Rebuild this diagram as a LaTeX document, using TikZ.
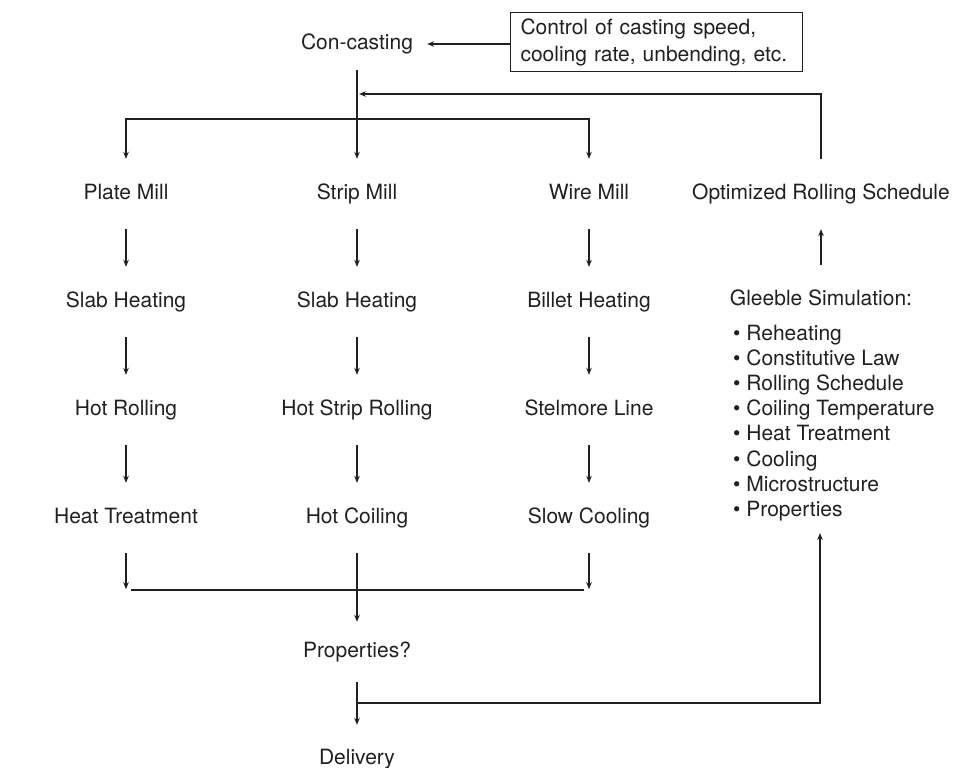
\documentclass[tikz,border=0pt]{standalone}
\usepackage{fontspec}
\setmainfont{TeX Gyre Heros}
\usetikzlibrary{arrows.meta}
\definecolor{ink}{HTML}{231F20}
\tikzset{
  lbl/.style={font=\fontsize{21}{25}\selectfont,text=ink,inner sep=0pt,text height=15pt,text depth=4pt,minimum height=70pt},
  flow/.style={draw=ink,line width=1.1pt,-{Stealth[length=7pt,width=5.5pt]}},
  wire/.style={draw=ink,line width=1.1pt}
}

\begin{document}
\begin{tikzpicture}[x=1pt,y=-1pt]
  \useasboundingbox (0,0) rectangle (969,768);
  % caster and its control box
  \node[lbl,minimum height=52pt,inner xsep=14pt] (cc) at (357,44) {Con-casting};
  \node[draw=ink,line width=1.1pt,anchor=north west,minimum height=59pt,inner xsep=10pt,text width=272pt,align=left,font=\fontsize{21}{27}\selectfont,text=ink] (ctrl) at (510,12) {Control of casting speed,\\cooling rate, unbending, etc.};
  \draw[flow] (ctrl.west |- cc.east) -- (cc.east);
  % the three mill routes
  \foreach \c/\x/\a/\b/\d/\e in {pl/126/Plate Mill/Slab Heating/Hot Rolling/Heat Treatment,
                                 st/357/Strip Mill/Slab Heating/Hot Strip Rolling/Hot Coiling,
                                 wi/589/Wire Mill/Billet Heating/Stelmore Line/Slow Cooling}{
    \node[lbl] (\c1) at (\x,194) {\a};
    \node[lbl] (\c2) at (\x,302) {\b};
    \node[lbl] (\c3) at (\x,410) {\d};
    \node[lbl] (\c4) at (\x,518) {\e};
    \draw[flow] (\c1.south) -- (\c2.north);
    \draw[flow] (\c2.south) -- (\c3.north);
    \draw[flow] (\c3.south) -- (\c4.north);
  }
  \coordinate (split) at (357,119);
  \draw[flow] (cc.south) -- (st1.north);
  \draw[flow] (split) -| (pl1.north);
  \draw[flow] (split) -| (wi1.north);
  % simulation loop
  \node[lbl] (opt) at (821,194) {Optimized Rolling Schedule};
  \node[lbl] (gl) at (821,300) {Gleeble Simulation:};
  \node[anchor=north west,inner sep=0pt,align=left,font=\fontsize{21}{25.1}\selectfont,text=ink] (glist) at (733,325)
    {\textbullet\ Reheating\\\textbullet\ Constitutive Law\\\textbullet\ Rolling Schedule\\\textbullet\ Coiling Temperature\\
     \textbullet\ Heat Treatment\\\textbullet\ Cooling\\\textbullet\ Microstructure\\\textbullet\ Properties};
  \draw[flow] (gl.north) -- (opt.south);
  \coordinate (back) at (359,94);
  \draw[flow] (opt.north) |- (back);
  % merge and delivery
  \draw[flow] (pl4.south) -- ++(0,36);
  \draw[flow] (wi4.south) -- ++(0,36);
  \coordinate (joinL) at (131,590);
  \coordinate (joinR) at (584,590);
  \draw[wire] (joinL) -- (joinR);
  \node[lbl,minimum height=60pt] (prop) at (357,652) {Properties?};
  \draw[flow] (st4.south) -- (prop.north);
  \node[lbl,minimum height=68pt] (deliv) at (357,759) {Delivery};
  \draw[flow] (prop.south) -- (deliv.north);
  \coordinate (tee) at (357,703);
  \coordinate (gsim) at (820,533);
  \draw[flow] (tee) -| (gsim);
\end{tikzpicture}
\end{document}
